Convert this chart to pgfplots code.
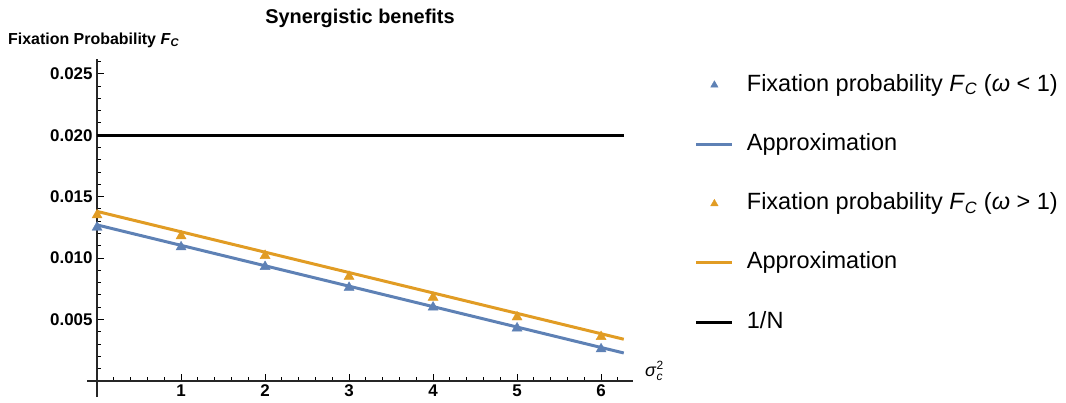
\documentclass[border=0pt]{standalone}
\usepackage{fontspec}
\setmainfont{Liberation Sans}
\usepackage{pgfplots}
\pgfplotsset{compat=1.18}
\definecolor{mblue}{HTML}{5E81B5}
\definecolor{morange}{HTML}{E19C24}
\begin{document}
\begin{tikzpicture}
\path[use as bounding box] (0bp,0bp) rectangle (1066bp,403bp);
\begin{axis}[
 at={(87bp,6bp)}, anchor=south west,
 scale only axis, width=546bp, height=338bp,
 xmin=-0.12, xmax=6.38, ymin=-0.0013, ymax=0.0262,
 clip=false,
 axis lines=middle,
 axis line style={-, line width=1.3bp, black!85},
 xtick={1,2,3,4,5,6},
 ytick={0.005,0.01,0.015,0.02,0.025},
 minor xtick={0.2,0.4,0.6,0.8,1.2,1.4,1.6,1.8,2.2,2.4,2.6,2.8,3.2,3.4,3.6,3.8,4.2,4.4,4.6,4.8,5.2,5.4,5.6,5.8,6.2},
 minor ytick={0.001,0.002,0.003,0.004,0.006,0.007,0.008,0.009,0.011,0.012,0.013,0.014,0.016,0.017,0.018,0.019,0.021,0.022,0.023,0.024,0.026},
 tick align=inside,
 major tick length=7bp, minor tick length=4bp,
 every tick/.style={black, line width=1bp},
 scaled y ticks=false,
 yticklabel style={/pgf/number format/fixed, /pgf/number format/fixed zerofill, /pgf/number format/precision=3, xshift=-1bp},
 /pgf/number format/assume math mode=true,
 ticklabel style={font=\fontsize{17}{20}\selectfont\bfseries},
 title={Synergistic benefits},
 title style={at={(axis description cs:0.5,1)}, anchor=base, yshift=30bp, font=\fontsize{20}{24}\selectfont\bfseries},
 ylabel={Fixation Probability \textit{F}\textsubscript{\textit{C}}},
 every axis y label/.style={at={(axis description cs:0,1)}, anchor=west, inner sep=0pt, xshift=-79bp, yshift=19bp, font=\fontsize{16}{19}\selectfont\bfseries},
 xlabel={\textit{σ}$^{\mbox{\fontsize{12}{12}\selectfont 2}}_{\mbox{\fontsize{12}{12}\selectfont\textit{c}}}$},
 every axis x label/.style={at={(axis description cs:1,0.0473)}, anchor=west, inner sep=0pt, xshift=12bp, yshift=10bp, font=\fontsize{18}{20}\selectfont},
 legend style={at={(axis description cs:1.113,0.956)}, anchor=north west, draw=none, fill=none, font=\fontsize{23.6}{27}\selectfont, row sep=37.3bp, inner sep=0pt, nodes={inner sep=0pt, text height=17bp, text depth=5bp}, /tikz/every odd column/.append style={column sep=13bp}},
 legend cell align=left,
 legend image code/.code={\draw[mark repeat=2,mark phase=2,#1,mark size=4.3bp] plot coordinates {(0bp,0bp) (18bp,0bp) (36bp,0bp)};},
]
\addplot[only marks, mark=triangle*, mark size=5.8bp, color=mblue] coordinates {
 (0,0.0125) (1,0.0109) (2,0.0093) (3,0.0076) (4,0.0060) (5,0.0043) (6,0.0026)};
\addlegendentry{Fixation probability \textit{F}\textsubscript{\textit{C}} (\textit{ω} < 1)}
\addplot[mblue, line width=3bp] coordinates {(0,0.0127) (6.27,0.00228)};
\addlegendentry{Approximation}
\addplot[only marks, mark=triangle*, mark size=5.8bp, color=morange] coordinates {
 (0,0.0135) (1,0.0118) (2,0.0102) (3,0.0085) (4,0.0068) (5,0.0052) (6,0.0036)};
\addlegendentry{Fixation probability \textit{F}\textsubscript{\textit{C}} (\textit{ω} > 1)}
\addplot[morange, line width=3bp] coordinates {(0,0.0138) (6.27,0.0034)};
\addlegendentry{Approximation}
\addplot[black, line width=3bp] coordinates {(0,0.020) (6.27,0.020)};
\addlegendentry{1/N}
\end{axis}
\end{tikzpicture}
\end{document}
